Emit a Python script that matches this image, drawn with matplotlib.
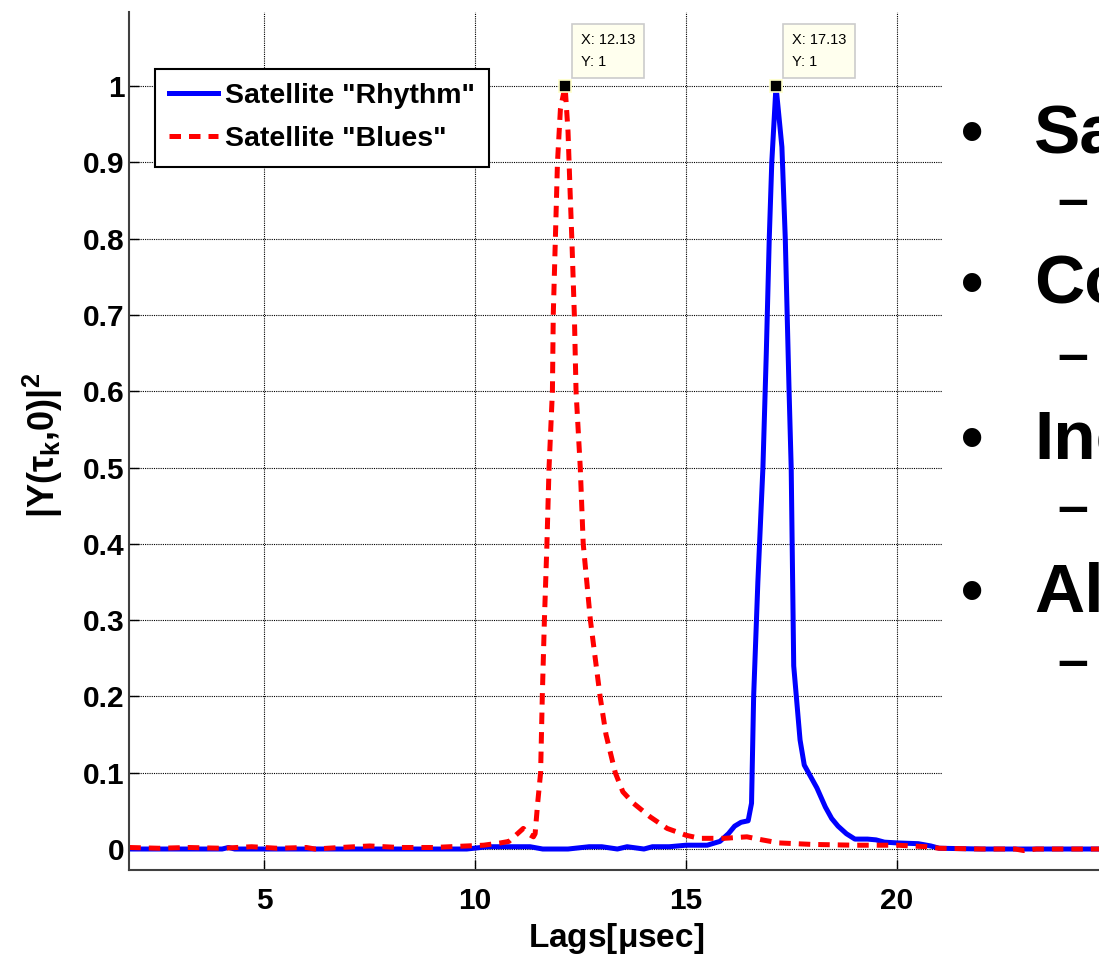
import matplotlib
matplotlib.use("Agg")
import matplotlib.pyplot as plt
from matplotlib.patches import Rectangle

# Correlation peaks of the two satellites (lag in microseconds, normalised power)
rhythm_lag = [1.8, 2.5, 3.0, 3.5, 4.0, 4.15, 4.3, 5.0, 6.0, 7.0, 8.0, 9.0, 9.8,
              10.3, 10.8, 11.3, 11.6, 12.2, 12.7, 13.0, 13.37, 13.6, 14.0, 14.2,
              14.6, 15.0, 15.5, 15.8, 16.0, 16.15, 16.3, 16.47, 16.55, 16.6, 16.7,
              16.82, 16.9, 16.97, 17.03, 17.13, 17.27, 17.35, 17.44, 17.49, 17.55,
              17.7, 17.8, 17.9, 18.1, 18.3, 18.45, 18.6, 18.8, 19.0, 19.3, 19.5,
              19.7, 20.0, 20.5, 20.8, 21.0, 22.0, 23.0, 24.0, 25.0]
rhythm_pow = [0.0, 0.0, 0.0, 0.0, 0.0, 0.002, 0.0, 0.0, 0.0, 0.0, 0.0, 0.0, 0.0,
              0.003, 0.003, 0.003, 0.0, 0.0, 0.003, 0.003, 0.0, 0.003, 0.0, 0.003,
              0.003, 0.005, 0.005, 0.01, 0.02, 0.03, 0.035, 0.037, 0.06, 0.2, 0.35,
              0.5, 0.65, 0.8, 0.9, 1.0, 0.92, 0.8, 0.6, 0.5, 0.24,
              0.143, 0.11, 0.1, 0.08, 0.055, 0.04, 0.03, 0.02, 0.013, 0.013, 0.012,
              0.009, 0.008, 0.007, 0.004, 0.001, 0.0, 0.0, 0.0, 0.0]

blues_lag = [1.8, 2.5, 3.2, 4.0, 4.7, 5.3, 6.0, 6.2, 6.8, 7.5, 8.2, 9.0, 9.8,
             10.2, 10.6, 10.8, 11.0, 11.14, 11.25, 11.38, 11.42, 11.48, 11.55,
             11.59, 11.64, 11.70, 11.75, 11.83, 11.85, 11.9, 11.95, 12.02, 12.13,
             12.2, 12.25, 12.29, 12.35, 12.39, 12.49, 12.56, 12.73, 12.96, 13.1,
             13.32, 13.5, 13.75, 14.15, 14.55, 15.0, 15.33, 15.9, 16.44, 16.8,
             17.2, 18.0, 19.0, 20.0, 20.7, 21.0, 22.0, 22.8, 23.0, 23.3, 24.0, 25.0]
blues_pow = [0.002, 0.001, 0.002, 0.001, 0.003, 0.001, 0.002, 0.0, 0.002, 0.004,
             0.002, 0.002, 0.004, 0.005, 0.008, 0.01, 0.02, 0.027, 0.02, 0.016,
             0.02, 0.06, 0.1, 0.2, 0.3, 0.4, 0.5, 0.6, 0.7, 0.8, 0.9, 0.97, 1.0,
             0.94, 0.86, 0.8, 0.7, 0.6, 0.5, 0.4, 0.3, 0.2, 0.15, 0.1, 0.075, 0.06,
             0.042, 0.027, 0.018, 0.014, 0.014, 0.016, 0.012, 0.008, 0.006, 0.005,
             0.005, 0.003, 0.001, 0.0, 0.0, -0.002, 0.0, 0.0, 0.0]

series_names = ['Satellite "Rhythm"', 'Satellite "Blues"']
y_ticks = [0, 0.1, 0.2, 0.3, 0.4, 0.5, 0.6, 0.7, 0.8, 0.9, 1]
y_tick_labels = ["0", "0.1", "0.2", "0.3", "0.4", "0.5", "0.6", "0.7", "0.8", "0.9", "1"]
x_ticks = [5, 10, 15, 20]

bullets = ["Sa", "Co", "Inc", "Alt"]

W, H = 1099, 957

plt.rcParams["font.family"] = ["Liberation Sans", "DejaVu Sans"]
plt.rcParams["mathtext.fontset"] = "custom"
plt.rcParams["mathtext.rm"] = "Liberation Sans:bold"
plt.rcParams["mathtext.it"] = "Liberation Sans:bold"
plt.rcParams["mathtext.bf"] = "Liberation Sans:bold"

fig = plt.figure(figsize=(W / 100, H / 100), dpi=100)
ax = fig.add_axes([129.3 / W, 87 / H, (1108 - 129.3) / W, 858 / H])

ax.plot(rhythm_lag, rhythm_pow, color="#0000FF", lw=3.6, label=series_names[0],
        solid_joinstyle="round")
ax.plot(blues_lag, blues_pow, color="#FF0000", lw=3.6, dashes=(2.3, 1.6),
        label=series_names[1])

# data tips at the two peaks
for lags, pw in [(blues_lag, blues_pow), (rhythm_lag, rhythm_pow)]:
    i = pw.index(max(pw))
    ax.plot([lags[i]], [pw[i]], marker="s", ms=8.5, mfc="k", mec="#FFFFC8", mew=1.2,
            zorder=6)
    ax.annotate(f"X: {lags[i]:.2f}\nY: {pw[i]:g}", xy=(lags[i], pw[i]),
                xytext=(16, 17), textcoords="offset pixels", ha="left", va="bottom",
                fontsize=10.5, linespacing=1.75, zorder=7,
                bbox=dict(boxstyle="square,pad=0.6", fc="#FFFFEE", ec="#CCCCCC", lw=1.2))

ax.set_xlim(1.8, 25)
ax.set_ylim(-0.0275, 1.097)
ax.set_xticks(x_ticks)
ax.set_yticks(y_ticks)
ax.set_yticklabels(y_tick_labels)
ax.tick_params(direction="in", length=7, width=1, labelsize=21.5, pad=3.5,
               top=False, right=False)
ax.tick_params(axis="x", pad=12)
for lab in ax.get_xticklabels() + ax.get_yticklabels():
    lab.set_fontweight("bold")
ax.grid(True, color="k", linestyle=(0, (1, 1)), lw=0.8)
ax.set_axisbelow(True)
for side in ["top", "right"]:
    ax.spines[side].set_visible(False)
for side in ["left", "bottom"]:
    ax.spines[side].set_color("#404040")
    ax.spines[side].set_linewidth(1.5)

ax.set_xlabel(r"Lags[$\mu$sec]", fontsize=24, fontweight="bold")
ax.xaxis.set_label_coords((616 - 129.3) / (1108 - 129.3), -(938 - 870) / 858)
ax.xaxis.label.set_va("center")
ax.set_ylabel(r"|Y($\tau_k$,0)|$^2$", fontsize=26, fontweight="bold")
ax.yaxis.set_label_coords(-(129.3 - 43) / (1108 - 129.3), (870 - 445) / 858)
ax.yaxis.label.set_va("center")

leg = ax.legend(loc="upper left", bbox_to_anchor=(155 / W, 1 - 69 / H),
                bbox_transform=fig.transFigure, borderaxespad=0, fancybox=False,
                framealpha=1, edgecolor="k", prop=dict(size=20.5, weight="bold"),
                handlelength=1.7, handletextpad=0.25, borderpad=0.5,
                labelspacing=0.6)
leg.get_frame().set_linewidth(1.5)

# slide text box that sits over the right part of the plot
fig.add_artist(Rectangle((942 / W, 1 - 810 / H), (W - 942) / W, (810 - 60) / H,
                         transform=fig.transFigure, fc="white", ec="none", zorder=5))
for k, word in enumerate(bullets):
    yb = [153, 304, 459, 612][k]
    fig.text(972 / W, 1 - yb / H, "\u2022", fontsize=46, fontweight="bold",
             ha="center", va="baseline", zorder=6)
    fig.text(1034 / W, 1 - yb / H, word, fontsize=50, fontweight="bold",
             ha="left", va="baseline", zorder=6)
    ys = [217, 372, 524, 678][k]
    fig.text(1057 / W, 1 - ys / H, "\u2013", fontsize=40, fontweight="bold",
             ha="left", va="baseline", zorder=6)

fig.savefig("out.png", dpi=100)
